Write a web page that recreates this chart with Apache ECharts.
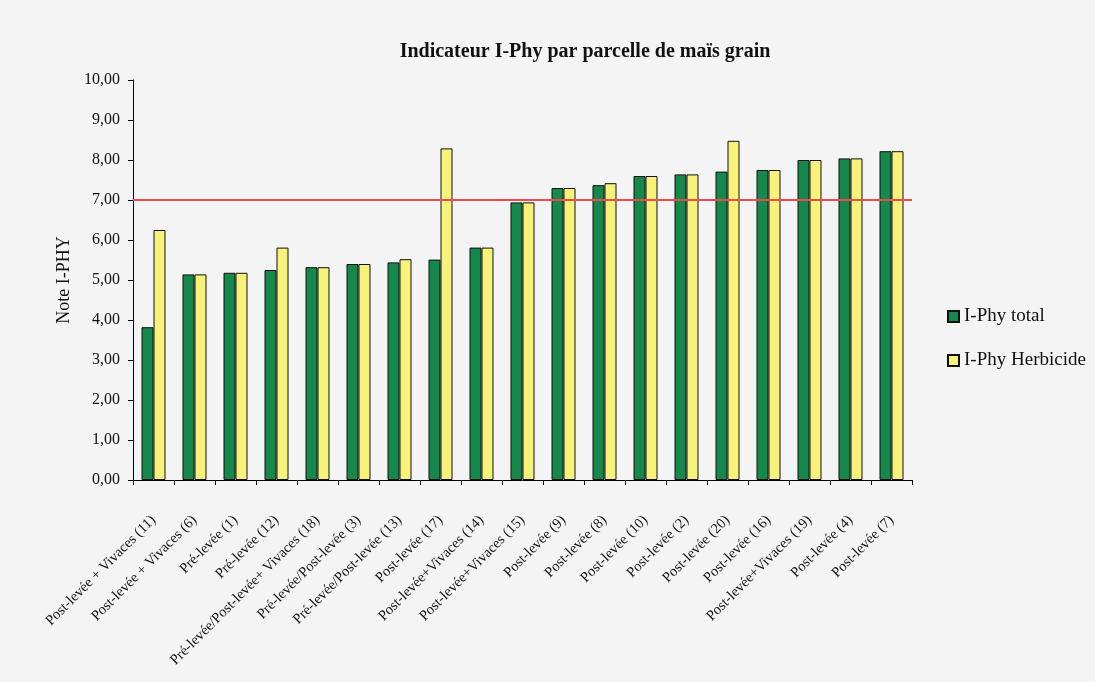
<!DOCTYPE html>
<html>
<head>
<meta charset="utf-8">
<script src="https://cdn.jsdelivr.net/npm/echarts@6/dist/echarts.min.js"></script>
<style>
  html, body { margin: 0; padding: 0; background: #f4f4f4; }
  #chart { width: 1095px; height: 682px; }
</style>
</head>
<body>
<div id="chart"></div>
<script>
// Parcelles de maïs grain, classées par note I-Phy total croissante
const categories = [
  'Post-levée + Vivaces (11)',
  'Post-levée + Vivaces (6)',
  'Pré-levée (1)',
  'Pré-levée (12)',
  'Pré-levée/Post-levée+ Vivaces (18)',
  'Pré-levée/Post-levée (3)',
  'Pré-levée/Post-levée (13)',
  'Post-levée (17)',
  'Post-levée+Vivaces (14)',
  'Post-levée+Vivaces (15)',
  'Post-levée (9)',
  'Post-levée (8)',
  'Post-levée (10)',
  'Post-levée (2)',
  'Post-levée (20)',
  'Post-levée (16)',
  'Post-levée+Vivaces (19)',
  'Post-levée (4)',
  'Post-levée (7)'
];

const iphyTotal = [3.82, 5.14, 5.18, 5.25, 5.32, 5.40, 5.44, 5.51, 5.81, 6.94, 7.30, 7.37, 7.60, 7.64, 7.71, 7.75, 8.00, 8.04, 8.22];
const iphyHerbicide = [6.25, 5.14, 5.18, 5.81, 5.32, 5.40, 5.52, 8.29, 5.81, 6.94, 7.30, 7.42, 7.60, 7.64, 8.48, 7.75, 8.00, 8.04, 8.22];

const seuil = 7;

const serif = '"Liberation Serif", "DejaVu Serif", serif';

const chart = echarts.init(document.getElementById('chart'));
chart.setOption({
  backgroundColor: '#f4f4f4',
  animation: false,
  title: {
    text: 'Indicateur I-Phy par parcelle de maïs grain',
    left: 580,
    top: 37,
    textAlign: 'center',
    textStyle: { fontFamily: serif, fontSize: 20, fontWeight: 'bold', color: '#111' }
  },
  legend: {
    orient: 'vertical',
    left: 942,
    top: 302,
    icon: 'rect',
    itemWidth: 11,
    itemHeight: 11,
    itemGap: 25,
    textStyle: { fontFamily: serif, fontSize: 19, color: '#111' },
    data: ['I-Phy total', 'I-Phy Herbicide']
  },
  grid: { left: 133, right: 183, top: 80, bottom: 202, containLabel: false },
  xAxis: {
    type: 'category',
    data: categories,
    boundaryGap: true,
    axisLine: { lineStyle: { color: '#000', width: 1 } },
    axisTick: { show: true, length: 5, lineStyle: { color: '#000' } },
    axisLabel: {
      interval: 0,
      rotate: 45,
      margin: 38,
      fontFamily: serif,
      fontSize: 14.5,
      color: '#111'
    }
  },
  yAxis: {
    type: 'value',
    min: 0,
    max: 10,
    interval: 1,
    name: 'Note I-PHY',
    nameLocation: 'middle',
    nameGap: 56,
    nameTextStyle: { fontFamily: serif, fontSize: 18, color: '#111' },
    axisLine: { show: true, lineStyle: { color: '#000', width: 1 } },
    axisTick: { show: true, length: 5, lineStyle: { color: '#000' } },
    splitLine: { show: false },
    axisLabel: {
      margin: 13,
      fontFamily: serif,
      fontSize: 16,
      color: '#111',
      formatter: v => v.toFixed(2).replace('.', ',')
    }
  },
  series: [
    {
      name: 'I-Phy total',
      type: 'bar',
      data: iphyTotal,
      barWidth: 12,
      barGap: '0%',
      itemStyle: { color: '#17874b', borderColor: '#111', borderWidth: 1 },
      markLine: {
        silent: true,
        symbol: 'none',
        label: { show: false },
        lineStyle: { color: '#ee4c4c', width: 2, type: 'solid' },
        data: [{ yAxis: seuil }]
      }
    },
    {
      name: 'I-Phy Herbicide',
      type: 'bar',
      data: iphyHerbicide,
      barWidth: 12,
      itemStyle: { color: '#f6f27c', borderColor: '#111', borderWidth: 1 }
    }
  ]
});
</script>
</body>
</html>
